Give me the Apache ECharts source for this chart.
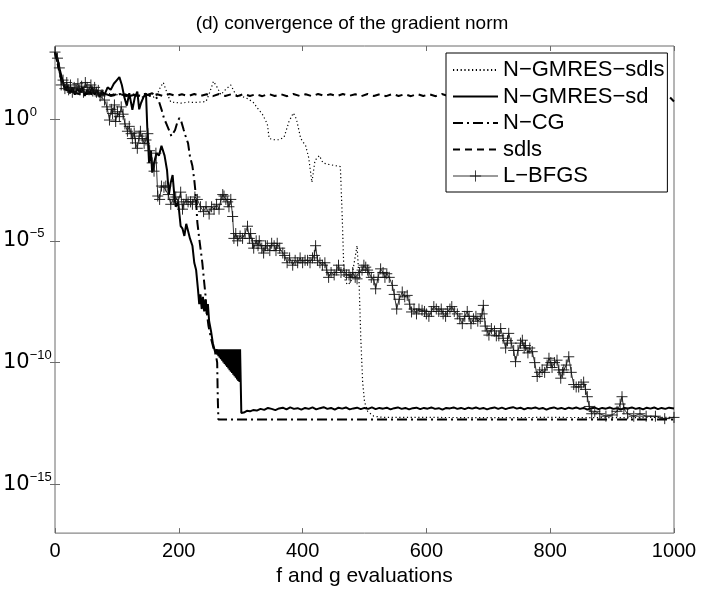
<!DOCTYPE html>
<html>
<head>
<meta charset="utf-8">
<script src="https://cdn.jsdelivr.net/npm/echarts@6/dist/echarts.min.js"></script>
<style>html,body{margin:0;padding:0;background:#fff}#c{width:704px;height:592px}</style>
</head>
<body>
<div id="c"></div>
<script>
// Values are [f and g evaluations, log10(gradient norm)].
const seriesNames = ['N−GMRES−sdls', 'N−GMRES−sd', 'N−CG', 'sdls', 'L−BFGS'];
const xTicks = [0, 200, 400, 600, 800, 1000];
const yTickExponents = [-15, -10, -5, 0];

const ngmresSdls = [[0,2.75],[5,2.2],[10,1.6],[15,1.3],[20,1.2],[30,1.15],[40,1.1],[50,1.15],[60,1.05],[70,1.1],[80,1.0],[90,1.05],[100,1.0],[110,1.05],[120,0.95],[130,1.0],[140,0.9],[150,0.95],[160,0.9],[165,1.0],[170,1.3],[175,1.5],[178,1.45],[182,1.0],[187,0.7],[195,0.68],[205,0.65],[215,0.7],[225,0.68],[235,0.7],[244,0.72],[250,1.1],[256,1.55],[262,1.3],[268,1.0],[275,1.2],[284,1.4],[292,1.0],[300,0.95],[310,0.85],[320,0.7],[327,0.45],[335,0.2],[343,-0.2],[346,-0.8],[355,-0.85],[362,-0.85],[370,-0.75],[378,-0.1],[385,0.25],[390,0.0],[397,-0.8],[405,-1.1],[410,-1.6],[415,-2.6],[420,-1.7],[427,-1.5],[433,-1.8],[440,-1.85],[450,-1.9],[461,-1.95],[464,-4.0],[467,-6.5],[472,-6.8],[478,-6.7],[484,-5.8],[488,-5.2],[491,-6.5],[494,-9.0],[497,-10.8],[500,-11.6],[505,-12.0],[515,-12.2],[530,-12.25],[600,-12.25],[700,-12.26],[800,-12.25],[900,-12.26],[1000,-12.25]];

const ngmresSd = [[0,2.75],[4,2.5],[8,2.0],[12,1.6],[16,1.2],[20,1.35],[24,1.05],[28,1.3],[32,1.0],[36,1.25],[40,1.1],[44,1.3],[48,0.95],[52,1.2],[56,1.05],[60,1.3],[64,1.0],[68,1.2],[72,0.9],[76,1.15],[80,1.0],[85,1.3],[90,1.2],[95,1.45],[100,1.6],[104,1.72],[108,1.4],[112,0.9],[116,0.55],[120,1.06],[125,0.38],[129,0.9],[133,1.13],[136,0.4],[139,0.66],[143,0.9],[147,1.06],[149,-0.3],[152,-1.8],[155,-1.3],[157,-2.2],[160,-1.8],[164,-1.4],[168,-1.5],[172,-1.1],[174,-1.05],[177,-1.5],[181,-2.1],[184,-3.1],[187,-2.6],[190,-2.3],[193,-3.2],[195,-3.6],[199,-3.4],[203,-4.4],[206,-4.5],[209,-4.8],[212,-4.3],[215,-4.6],[218,-4.9],[222,-5.2],[225,-5.9],[228,-6.2],[231,-7.0],[233,-7.6],[235,-7.2],[237,-7.8],[239,-7.3],[241,-7.9],[243,-7.4],[245,-8.0],[247,-7.6],[249,-8.3],[252,-8.7],[255,-9.2],[257,-9.4],[259,-9.6],
[260,-9.6],[261,-9.45],[262,-9.67],[263,-9.45],[264,-9.73],[265,-9.45],[266,-9.8],[267,-9.45],[268,-9.86],[269,-9.45],[270,-9.92],[271,-9.45],[272,-9.99],[273,-9.45],[274,-10.05],[275,-9.45],[276,-10.12],[277,-9.45],[278,-10.18],[279,-9.45],[280,-10.24],[281,-9.45],[282,-10.31],[283,-9.45],[284,-10.37],[285,-9.45],[286,-10.43],[287,-9.45],[288,-10.5],[289,-9.45],[290,-10.56],[291,-9.45],[292,-10.62],[293,-9.45],[294,-10.69],[295,-9.45],[296,-10.75],[297,-9.45],[298,-10.8],[299,-9.45],[300,-9.5],[301,-12.07],
[305,-12.05],[310,-11.98],[315,-12.0],[320,-11.95],[326,-11.97],[332,-11.9],[338,-11.94],[344,-11.86],[350,-11.9],[356,-11.95],[362,-11.88],[368,-11.85],[374,-11.92],[380,-11.84],[386,-11.9],[392,-11.87],[398,-11.93],[404,-11.86],[410,-11.9],[416,-11.84],[422,-11.92],[428,-11.87],[434,-11.83],[440,-11.9],[446,-11.86],[452,-11.93],[458,-11.85],[464,-11.89],[470,-11.84],[476,-11.92],[482,-11.88],[488,-11.85],[494,-11.91],[500,-11.86],[506,-11.9],[512,-11.84],[518,-11.91],[524,-11.86],[530,-11.89],[536,-11.85],[542,-11.92],[548,-11.87],[554,-11.84],[560,-11.9],[566,-11.86],[572,-11.92],[578,-11.87],[584,-11.85],[590,-11.91],[596,-11.86],[602,-11.89],[608,-11.84],[614,-11.9],[620,-11.87],[626,-11.93],[632,-11.86],[638,-11.88],[644,-11.84],[650,-11.9],[656,-11.86],[662,-11.91],[668,-11.85],[674,-11.89],[680,-11.84],[686,-11.9],[692,-11.86],[698,-11.92],[704,-11.87],[710,-11.84],[716,-11.9],[722,-11.85],[728,-11.91],[734,-11.86],[740,-11.83],[746,-11.89],[752,-11.85],[758,-11.92],[764,-11.86],[770,-11.88],[776,-11.84],[782,-11.9],[788,-11.86],[794,-11.93],[800,-11.87],[806,-11.84],[812,-11.9],[818,-11.86],[824,-11.91],[830,-11.85],[836,-11.89],[842,-11.84],[848,-11.9],[854,-11.86],[860,-11.93],[866,-11.87],[872,-11.85],[878,-11.91],[884,-11.86],[890,-11.89],[896,-11.84],[902,-11.9],[908,-11.87],[914,-11.93],[920,-11.86],[926,-11.88],[932,-11.84],[938,-11.9],[944,-11.86],[950,-11.92],[956,-11.85],[962,-11.89],[968,-11.84],[974,-11.91],[980,-11.86],[986,-11.9],[992,-11.85],[1000,-11.88]];

const ncg = [[0,2.75],[5,2.2],[10,1.7],[15,1.35],[20,1.2],[30,1.1],[40,1.15],[50,1.05],[60,1.1],[70,1.0],[80,1.05],[90,0.95],[100,1.0],[110,1.05],[120,0.95],[130,1.0],[140,0.95],[150,1.0],[157,1.06],[162,0.95],[168,0.72],[172,0.4],[176,0.04],[180,-0.2],[184,-0.44],[188,-0.7],[190,-0.78],[194,-0.45],[198,-0.1],[201,0.04],[204,-0.1],[208,-0.45],[211,-0.7],[215,-1.0],[218,-1.53],[222,-1.93],[225,-2.5],[227,-3.0],[230,-4.25],[233,-4.9],[236,-5.5],[238,-5.9],[241,-6.7],[243,-7.2],[245,-7.9],[248,-8.5],[252,-9.0],[256,-9.4],[260,-9.7],[262,-10.0],[263,-11.5],[264,-12.34],[1000,-12.34]];

const sdls = [[0,2.75],[4,2.3],[8,1.8],[12,1.45],[18,1.2],[25,1.1],[35,1.05],[45,1.0],[55,1.05],[65,1.0],[75,1.02],[85,0.98],[95,1.0],[105,1.03],[115,0.95],[125,1.02],[135,0.94],[145,1.03],[155,0.95],[165,1.02],[175,0.94],[185,1.03],[195,0.95],[205,1.02],[215,0.94],[225,1.03],[235,0.95],[245,1.02],[255,0.94],[265,1.03],[275,0.95],[285,1.02],[295,0.94],[305,1.03],[315,0.95],[325,1.02],[335,0.94],[345,1.03],[355,0.95],[365,1.02],[375,0.94],[385,1.03],[395,0.95],[405,1.02],[415,0.94],[425,1.03],[435,0.95],[445,1.02],[455,0.94],[465,1.03],[475,0.95],[485,1.02],[495,0.94],[505,1.03],[515,0.95],[525,1.02],[535,0.94],[545,1.03],[555,0.95],[565,1.02],[575,0.94],[585,1.03],[595,0.95],[605,1.02],[615,0.94],[625,1.03],[635,0.95],[645,1.02],[655,0.94],[665,1.03],[675,0.95],[685,1.02],[695,0.94],[705,1.03],[715,0.95],[725,1.02],[735,0.94],[745,1.03],[755,0.95],[765,1.02],[775,0.94],[785,1.03],[795,0.95],[805,1.02],[815,0.94],[825,1.03],[835,0.95],[845,1.02],[855,0.94],[865,1.03],[875,0.95],[885,1.02],[895,0.94],[905,1.03],[915,0.95],[925,1.02],[935,0.94],[945,1.03],[955,0.95],[965,1.02],[975,0.94],[985,1.0],[992,0.93],[1000,0.72]];

const lbfgs = [[0,2.75],[4,2.5],[7,2.1],[10,1.4],[13,1.6],[16,1.25],[19,1.5],[22,1.2],[25,1.4],[28,1.1],[31,1.3],[34,1.25],[37,1.45],[40,1.2],[43,1.35],[46,1.1],[49,1.5],[52,1.3],[55,1.2],[58,1.4],[61,1.15],[64,1.3],[67,1.1],[70,1.18],[73,0.95],[76,1.0],[80,0.78],[84,0.5],[88,-0.04],[91,0.4],[93,0.23],[96,0.58],[98,-0.1],[101,0.3],[104,0.1],[107,0.5],[110,0.2],[113,-0.2],[117,-0.5],[120,-0.3],[123,-0.6],[125,-0.8],[128,-0.57],[130,-0.98],[133,-1.2],[136,-0.7],[138,-0.5],[141,-0.8],[144,-1.0],[147,-0.86],[150,-0.6],[153,-1.3],[157,-1.8],[160,-2.14],[163,-1.4],[166,-3.16],[169,-3.3],[172,-2.75],[176,-2.8],[179,-2.75],[183,-3.1],[187,-3.5],[191,-3.3],[195,-3.2],[199,-3.4],[203,-3.0],[206,-3.7],[208,-3.5],[212,-3.3],[215,-3.4],[219,-3.4],[222,-3.5],[226,-3.2],[230,-3.3],[235,-3.6],[240,-3.8],[244,-3.6],[249,-3.9],[253,-3.6],[257,-3.7],[261,-3.5],[265,-3.7],[268,-3.3],[271,-3.1],[273,-3.16],[276,-3.3],[279,-3.4],[281,-3.6],[284,-3.3],[287,-4.0],[289,-4.9],[292,-4.7],[295,-5.0],[299,-4.8],[303,-4.9],[307,-4.7],[311,-4.4],[314,-4.9],[316,-4.7],[319,-5.1],[321,-5.3],[325,-5.0],[328,-5.2],[330,-5.0],[334,-5.3],[337,-5.5],[340,-5.2],[343,-5.2],[347,-5.4],[350,-5.1],[354,-5.2],[357,-5.4],[359,-5.1],[363,-5.3],[368,-5.5],[371,-5.6],[375,-5.9],[379,-5.7],[384,-6.0],[388,-5.8],[392,-5.9],[396,-5.7],[400,-5.9],[404,-5.8],[408,-5.8],[412,-5.9],[416,-5.7],[419,-5.6],[421,-5.2],[424,-5.8],[428,-5.9],[432,-6.0],[436,-5.9],[439,-6.2],[442,-6.5],[446,-6.3],[451,-6.4],[455,-6.2],[458,-6.0],[462,-6.3],[467,-6.2],[471,-6.4],[475,-6.4],[477,-6.5],[481,-6.3],[485,-6.5],[488,-6.56],[492,-6.3],[496,-6.2],[499,-6.0],[502,-6.08],[505,-6.2],[507,-6.3],[511,-6.5],[515,-6.6],[518,-6.97],[522,-6.5],[526,-6.15],[530,-6.3],[533,-6.5],[536,-6.35],[540,-6.5],[545,-6.83],[548,-7.2],[552,-7.8],[556,-7.4],[561,-7.1],[565,-7.3],[569,-7.24],[573,-7.6],[576,-7.92],[580,-7.8],[584,-8.0],[588,-7.8],[593,-7.85],[597,-7.9],[600,-8.0],[604,-8.1],[608,-7.9],[612,-7.7],[616,-7.8],[620,-7.9],[624,-7.8],[627,-8.0],[631,-8.1],[634,-7.9],[638,-7.8],[641,-7.7],[645,-7.9],[650,-8.0],[654,-8.2],[658,-8.4],[662,-8.1],[666,-7.9],[669,-8.1],[672,-8.4],[676,-8.2],[680,-8.1],[683,-8.3],[687,-8.2],[690,-8.0],[692,-7.65],[695,-8.5],[698,-8.7],[701,-8.87],[705,-8.6],[710,-8.7],[713,-8.9],[717,-8.9],[720,-8.6],[724,-9.0],[728,-9.4],[731,-9.1],[733,-8.8],[737,-9.2],[741,-9.5],[744,-9.96],[748,-9.5],[752,-9.2],[755,-9.08],[758,-9.4],[760,-9.3],[764,-9.6],[767,-9.4],[771,-9.55],[775,-10.0],[779,-10.57],[783,-10.4],[787,-10.3],[791,-10.4],[795,-10.1],[798,-9.82],[801,-10.0],[803,-10.2],[807,-10.0],[811,-9.9],[814,-10.3],[817,-10.64],[820,-10.4],[822,-10.3],[826,-10.1],[830,-9.76],[834,-10.4],[838,-10.9],[842,-11.0],[846,-11.0],[850,-10.9],[854,-10.8],[857,-11.1],[860,-11.4],[863,-11.8],[867,-12.1],[872,-12.0],[880,-12.1],[890,-12.2],[900,-12.15],[908,-12.0],[913,-11.7],[916,-11.4],[919,-11.9],[925,-12.1],[935,-12.2],[945,-12.1],[955,-12.2],[970,-12.2],[985,-12.3],[1000,-12.25]];

const toPoints = arr => arr.map(p => [p[0], Math.pow(10, p[1])]);
const yTickValues = yTickExponents.map(e => Math.pow(10, e));

const FONT = 'Liberation Sans';
const AX = '#6b6b6b';
const chart = echarts.init(document.getElementById('c'), null, {renderer: 'canvas'});

const expLabel = v => {
  const e = Math.round(Math.log10(v));
  return '{b|10}{s|' + (e < 0 ? '\u2212' + (-e) : e) + '}';
};

chart.setOption({
  animation: false,
  backgroundColor: '#fff',
  title: {
    text: '(d) convergence of the gradient norm',
    left: 'center', top: 9,
    textStyle: {fontFamily: FONT, fontSize: 19, fontWeight: 'normal', color: '#000'}
  },
  grid: {left: 54, top: 46, width: 620, height: 490, show: true, borderColor: AX, borderWidth: 1, backgroundColor: '#fff'},
  legend: {
    orient: 'vertical', left: 446, top: 53,
    padding: [6, 3, 5, 6],
    itemWidth: 45, itemHeight: 14, itemGap: 4.5,
    backgroundColor: '#fff', borderColor: '#000', borderWidth: 1,
    textStyle: {fontFamily: FONT, fontSize: 22, color: '#000', lineHeight: 22},
    data: [
      {name: seriesNames[0], itemStyle: {opacity: 0}},
      {name: seriesNames[1], itemStyle: {opacity: 0}},
      {name: seriesNames[2], itemStyle: {opacity: 0}},
      {name: seriesNames[3], itemStyle: {opacity: 0}},
      {name: seriesNames[4], lineStyle: {width: 0.8}, itemStyle: {borderWidth: 0.8}}
    ]
  },
  xAxis: [{
    type: 'value', min: xTicks[0], max: xTicks[xTicks.length - 1], interval: 200,
    name: 'f and g evaluations', nameLocation: 'middle', nameGap: 27,
    nameTextStyle: {fontFamily: FONT, fontSize: 21, color: '#000'},
    axisLine: {show: false},
    axisTick: {show: true, inside: true, length: 5, lineStyle: {color: AX}},
    axisLabel: {fontFamily: FONT, fontSize: 20, color: '#000', margin: 8, formatter: v => String(v)},
    splitLine: {show: false}
  }, {
    type: 'value', position: 'top', min: xTicks[0], max: xTicks[xTicks.length - 1], interval: 200,
    axisLine: {show: false},
    axisTick: {show: true, inside: true, length: 5, lineStyle: {color: AX}},
    axisLabel: {show: false}, splitLine: {show: false}
  }],
  yAxis: [{
    type: 'log', logBase: 10, min: 1e-17, max: 1e3,
    axisLine: {show: false},
    axisTick: {show: true, inside: true, length: 5, lineStyle: {color: AX}, customValues: yTickValues},
    axisLabel: {
      customValues: yTickValues, margin: 52, align: 'left', formatter: expLabel,
      rich: {
        b: {fontFamily: 'DejaVu Sans', fontSize: 21, color: '#000', lineHeight: 27},
        s: {fontFamily: FONT, fontSize: 13, color: '#000', lineHeight: 13, verticalAlign: 'top'}
      }
    },
    splitLine: {show: false}
  }, {
    type: 'log', logBase: 10, min: 1e-17, max: 1e3, position: 'right',
    axisLine: {show: false},
    axisTick: {show: true, inside: true, length: 5, lineStyle: {color: AX}, customValues: yTickValues},
    axisLabel: {show: false}, splitLine: {show: false}
  }],
  series: [{
    name: seriesNames[0], type: 'line', data: toPoints(ngmresSdls), showSymbol: false, symbol: 'none',
    lineStyle: {color: '#000', width: 1.2, type: [1.2, 2.6]}, itemStyle: {color: '#000'}, z: 2
  }, {
    name: seriesNames[1], type: 'line', data: toPoints(ngmresSd), showSymbol: false, symbol: 'none',
    lineStyle: {color: '#000', width: 2}, itemStyle: {color: '#000'}, z: 3
  }, {
    name: seriesNames[2], type: 'line', data: toPoints(ncg), showSymbol: false, symbol: 'none',
    lineStyle: {color: '#000', width: 2, type: [10, 4, 2, 4]}, itemStyle: {color: '#000'}, z: 3
  }, {
    name: seriesNames[3], type: 'line', data: toPoints(sdls), showSymbol: false, symbol: 'none',
    lineStyle: {color: '#000', width: 2, type: [7, 5]}, itemStyle: {color: '#000'}, z: 3
  }, {
    name: seriesNames[4], type: 'line', data: toPoints(lbfgs),
    symbol: 'path://M0,5L10,5M5,0L5,10', symbolSize: 11, showSymbol: true,
    lineStyle: {color: '#000', width: 0.8},
    itemStyle: {color: 'transparent', borderColor: '#111', borderWidth: 0.9}, z: 4
  }]
});
</script>
</body>
</html>
